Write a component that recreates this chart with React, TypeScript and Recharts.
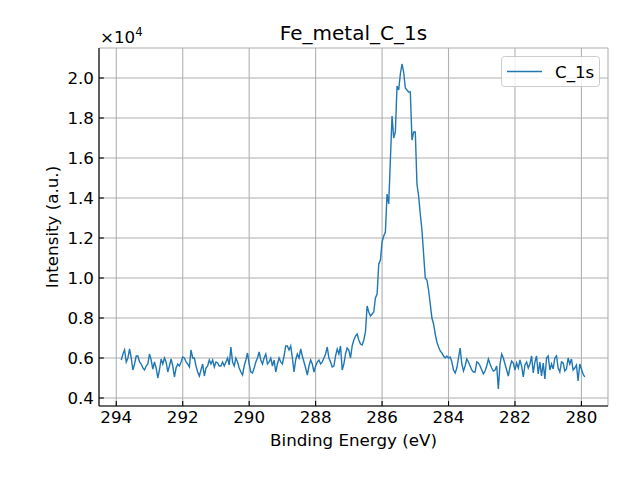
import React from 'react'
import { LineChart, Line, XAxis, YAxis, CartesianGrid } from 'recharts'

// C 1s spectrum, intensity in units of 1e4 counts, 0.05 eV steps from 293.85 eV down
const START_EV = 293.85
const STEP_EV = 0.05

// 293.85 .. 287.40 eV
const baselineHigh = [
  0.59, 0.62, 0.64, 0.58, 0.6, 0.645, 0.6, 0.54, 0.57, 0.61,
  0.61, 0.58, 0.57, 0.55, 0.54, 0.56, 0.57, 0.62, 0.59, 0.545,
  0.58, 0.55, 0.5, 0.54, 0.595, 0.57, 0.6, 0.58, 0.53, 0.56,
  0.595, 0.56, 0.505, 0.55, 0.57, 0.56, 0.58, 0.605, 0.6, 0.58,
  0.57, 0.555, 0.64, 0.6, 0.6, 0.56, 0.53, 0.51, 0.54, 0.57,
  0.51, 0.55, 0.56, 0.59, 0.57, 0.59, 0.555, 0.58, 0.575, 0.56,
  0.56, 0.58, 0.56, 0.58, 0.6, 0.565, 0.655, 0.58, 0.56, 0.6,
  0.58, 0.55, 0.53, 0.515, 0.56, 0.59, 0.625, 0.57, 0.53, 0.525,
  0.55, 0.58, 0.6, 0.63, 0.59, 0.57, 0.6, 0.62, 0.57, 0.58,
  0.6, 0.56, 0.59, 0.53, 0.57, 0.6, 0.58, 0.57, 0.61, 0.66,
  0.66, 0.64, 0.66, 0.6, 0.53, 0.59, 0.62, 0.6, 0.645, 0.61,
  0.58, 0.55, 0.515, 0.56, 0.59, 0.57, 0.53, 0.56, 0.58, 0.59,
  0.57, 0.58, 0.6, 0.62, 0.655, 0.6, 0.58, 0.555, 0.56, 0.61,
]

// 287.35 .. 283.40 eV
const peakRegion = [
  0.645, 0.62, 0.66, 0.54, 0.57, 0.62, 0.65, 0.64, 0.6, 0.66,
  0.69, 0.71, 0.72, 0.69, 0.67, 0.665, 0.69, 0.73, 0.86, 0.83,
  0.81, 0.82, 0.83, 0.9, 0.92, 1.07, 1.09, 1.18, 1.21, 1.23,
  1.42, 1.37, 1.59, 1.81, 1.7, 1.73, 1.96, 1.94, 2.02, 2.07,
  2.03, 1.95, 1.94, 1.93, 1.93, 1.69, 1.73, 1.73, 1.47, 1.41,
  1.32, 1.24, 1.12, 1.0, 0.99, 0.94, 0.87, 0.8, 0.77, 0.72,
  0.68, 0.655, 0.635, 0.625, 0.61, 0.6, 0.61, 0.6, 0.605, 0.58,
  0.54, 0.525, 0.55, 0.6, 0.65, 0.57, 0.535, 0.56, 0.595, 0.58,
]

// 283.35 .. 279.90 eV
const baselineLow = [
  0.56, 0.54, 0.53, 0.53, 0.58, 0.575, 0.56, 0.54, 0.52, 0.535,
  0.56, 0.595, 0.57, 0.55, 0.535, 0.54, 0.56, 0.445, 0.57, 0.62,
  0.6, 0.57, 0.54, 0.51, 0.555, 0.585, 0.575, 0.54, 0.575, 0.55,
  0.59, 0.56, 0.505, 0.565, 0.58, 0.55, 0.57, 0.61, 0.525, 0.58,
  0.61, 0.52, 0.58, 0.51, 0.575, 0.495, 0.6, 0.61, 0.54, 0.57,
  0.545, 0.6, 0.61, 0.55, 0.53, 0.58, 0.575, 0.535, 0.545, 0.6,
  0.57, 0.595, 0.54, 0.55, 0.565, 0.485, 0.57, 0.545, 0.52, 0.505,
]

const xTicks = [294, 292, 290, 288, 286, 284, 282, 280]
const yTicks = [0.4, 0.6, 0.8, 1.0, 1.2, 1.4, 1.6, 1.8, 2.0]

const intensity = [...baselineHigh, ...peakRegion, ...baselineLow]
const data = intensity.map((v, i) => ({
  e: Number((START_EV - i * STEP_EV).toFixed(2)),
  v,
}))

const FONT = 'DejaVu Sans, sans-serif'
const FS = 16.7
const TICK_LEN = 4.9

function XTick(props: any) {
  const { x, y, payload } = props
  return (
    <g>
      <line x1={x} y1={y} x2={x} y2={y - TICK_LEN} stroke="#000" strokeWidth={1.1} />
      <text x={x} y={y + 17} textAnchor="middle" fontFamily={FONT} fontSize={FS} fill="#000">
        {payload.value}
      </text>
    </g>
  )
}

function YTick(props: any) {
  const { x, y, payload } = props
  return (
    <g>
      <line x1={x} y1={y} x2={x + TICK_LEN} y2={y} stroke="#000" strokeWidth={1.1} />
      <text x={x - 5} y={y + 6} textAnchor="end" fontFamily={FONT} fontSize={FS} fill="#000">
        {payload.value.toFixed(1)}
      </text>
    </g>
  )
}

export default function App() {
  return (
    <div style={{ position: 'absolute', left: 0, top: 0, width: 640, height: 480, background: '#fff' }}>
      <LineChart width={640} height={480} data={data} margin={{ top: 48, right: 32, bottom: 0, left: 0 }}>
        <CartesianGrid stroke="#b0b0b0" strokeWidth={1.1} />
        <XAxis
          dataKey="e"
          type="number"
          domain={[279.2, 294.52]}
          reversed
          allowDataOverflow
          ticks={xTicks}
          interval={0}
          height={74}
          tickSize={0}
          tickMargin={0}
          tickLine={false}
          axisLine={{ stroke: '#000', strokeWidth: 1.1 }}
          tick={<XTick />}
        />
        <XAxis
          xAxisId="top"
          orientation="top"
          type="number"
          domain={[0, 1]}
          height={0}
          tick={false}
          tickLine={false}
          axisLine={{ stroke: '#000', strokeWidth: 1.1 }}
        />
        <YAxis
          type="number"
          domain={[0.36, 2.15]}
          allowDataOverflow
          ticks={yTicks}
          interval={0}
          width={99}
          tickSize={0}
          tickMargin={0}
          tickLine={false}
          axisLine={{ stroke: '#000', strokeWidth: 1.1 }}
          tick={<YTick />}
        />
        <YAxis
          yAxisId="right"
          orientation="right"
          type="number"
          domain={[0, 1]}
          width={0}
          tick={false}
          tickLine={false}
          axisLine={{ stroke: '#000', strokeWidth: 1.1 }}
        />
        <Line
          type="linear"
          dataKey="v"
          name="C_1s"
          stroke="#1f77b4"
          strokeWidth={1.4}
          dot={false}
          isAnimationActive={false}
        />
      </LineChart>
      <svg width={640} height={480} style={{ position: 'absolute', left: 0, top: 0, pointerEvents: 'none' }}>
        <text x={353.5} y={40} textAnchor="middle" fontFamily={FONT} fontSize={20} fill="#000">
          Fe_metal_C_1s
        </text>
        <text x={100} y={43} fontFamily={FONT} fontSize={FS} fill="#000">
          ×10
          <tspan fontSize={11.7} dy={-7}>4</tspan>
        </text>
        <text x={353.5} y={446} textAnchor="middle" fontFamily={FONT} fontSize={FS} fill="#000">
          Binding Energy (eV)
        </text>
        <text
          x={58}
          y={227}
          textAnchor="middle"
          transform="rotate(-90, 58, 227)"
          fontFamily={FONT}
          fontSize={FS}
          fill="#000"
        >
          Intensity (a.u.)
        </text>
        <rect x={501.5} y={56.5} width={98} height={30} rx={3} fill="rgba(255,255,255,0.8)" stroke="#cccccc" />
        <line x1={507} y1={71.5} x2={542} y2={71.5} stroke="#1f77b4" strokeWidth={1.4} />
        <text x={555} y={77.5} fontFamily={FONT} fontSize={FS} fill="#000">
          C_1s
        </text>
      </svg>
    </div>
  )
}
